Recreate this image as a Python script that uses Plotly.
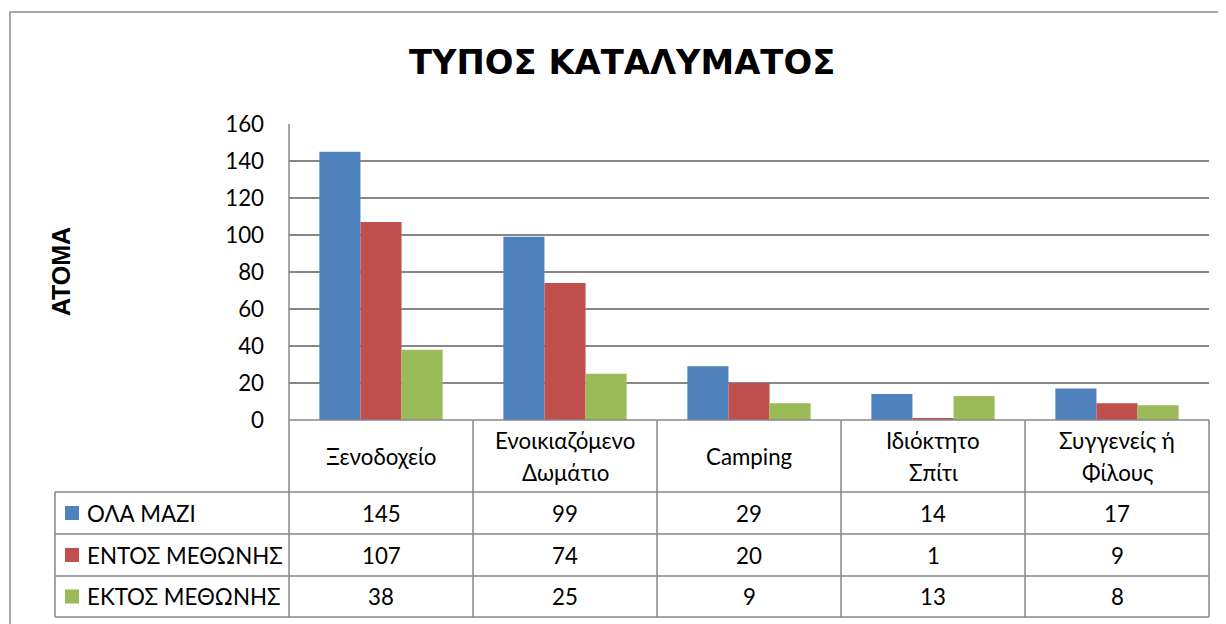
import plotly.graph_objects as go

# ---------------- data ----------------
categories = ["Ξενοδοχείο", "Ενοικιαζόμενο Δωμάτιο", "Camping", "Ιδιόκτητο Σπίτι", "Συγγενείς ή Φίλους"]
category_lines = [["Ξενοδοχείο"], ["Ενοικιαζόμενο", "Δωμάτιο"], ["Camping"], ["Ιδιόκτητο", "Σπίτι"], ["Συγγενείς ή", "Φίλους"]]
series_names = ["ΟΛΑ ΜΑΖΙ", "ΕΝΤΟΣ ΜΕΘΩΝΗΣ", "ΕΚΤΟΣ ΜΕΘΩΝΗΣ"]
ola_mazi = [145, 99, 29, 14, 17]
entos_methonis = [107, 74, 20, 1, 9]
ektos_methonis = [38, 25, 9, 13, 8]
series_values = [ola_mazi, entos_methonis, ektos_methonis]
series_colors = ["#4F81BD", "#C0504D", "#9BBB59"]
y_ticks = [0, 20, 40, 60, 80, 100, 120, 140, 160]
title_text = "ΤΥΠΟΣ ΚΑΤΑΛΥΜΑΤΟΣ"
y_title = "ΑΤΟΜΑ"

# ---------------- layout geometry (screen pixels, page body has 8px margin) ----------------
OFF = 8
W, H = 1226 - OFF, 624 - OFF
L, R, T, B = 289, 1209, 124, 420   # plot area in screen pixels
FONT = "Lato, 'Open Sans', sans-serif"
TFONT = "'DejaVu Sans', 'Liberation Sans', sans-serif"
YFONT = "'Liberation Sans', Arial, sans-serif"
GRID = "#878787"
TXT = 22.3
n = len(categories)

def px(x):
    return (x - L) / (R - L)

def py(y):
    return (B - y) / (B - T)

fig = go.Figure()
for name, vals, col in zip(series_names, series_values, series_colors):
    fig.add_trace(go.Bar(x=categories, y=vals, name=name, marker=dict(color=col, line=dict(width=0))))

shapes = []
ann = []

# outer chart border (top and left visible)
shapes.append(dict(type="rect", xref="paper", yref="paper", x0=px(10), x1=px(1260), y0=py(12), y1=py(660),
                   line=dict(color="#8c8c8c", width=1.5), layer="below"))

# table rows (screen pixel y)
hdr_top, hdr_bot = 420, 492
row_edges = [492, 534, 576, 617]
leg_left = 55

def hline(x0, x1, y):
    shapes.append(dict(type="line", xref="paper", yref="paper", x0=x0, x1=x1, y0=py(y), y1=py(y),
                       line=dict(color=GRID, width=1.5)))

def vline(x, y0, y1):
    shapes.append(dict(type="line", xref="paper", yref="paper", x0=x, x1=x, y0=py(y0), y1=py(y1),
                       line=dict(color=GRID, width=1.5)))

hline(0, 1, hdr_top)
for y in row_edges:
    hline(px(leg_left), 1, y)
vline(px(leg_left), row_edges[0], row_edges[-1])
vline(0, T, row_edges[-1])
for i in range(1, n + 1):
    vline(i / n, hdr_top, row_edges[-1])

# category header labels
for i, lines in enumerate(category_lines):
    xc = (i + 0.5) / n
    if len(lines) == 1:
        ys = [(hdr_top + hdr_bot) / 2]
    else:
        ys = [440, 473]
    for txt, yy in zip(lines, ys):
        ann.append(dict(text=txt, x=xc, y=py(yy), xref="paper", yref="paper", showarrow=False,
                        xanchor="center", yanchor="middle", font=dict(size=TXT, color="#000", family=FONT)))

# data rows
for r, (name, vals, col) in enumerate(zip(series_names, series_values, series_colors)):
    yc = (row_edges[r] + row_edges[r + 1]) / 2
    shapes.append(dict(type="rect", xref="paper", yref="paper", x0=px(65), x1=px(79), y0=py(yc - 7), y1=py(yc + 7),
                       fillcolor=col, line=dict(width=0)))
    ann.append(dict(text=name, x=px(85), y=py(yc), xref="paper", yref="paper", showarrow=False,
                    xanchor="left", yanchor="middle", font=dict(size=TXT, color="#000", family=FONT)))
    for i, v in enumerate(vals):
        ann.append(dict(text=str(v), x=(i + 0.5) / n, y=py(yc), xref="paper", yref="paper", showarrow=False,
                        xanchor="center", yanchor="middle", font=dict(size=TXT, color="#000", family=FONT)))

# title and y-axis title
ann.append(dict(text="<b>" + title_text + "</b>", x=px(622), y=py(62), xref="paper", yref="paper", showarrow=False,
                xanchor="center", yanchor="middle", font=dict(size=33.8, color="#000", family=TFONT)))
ann.append(dict(text="<b>" + y_title + "</b>", x=px(61), y=py(272), xref="paper", yref="paper", showarrow=False,
                xanchor="center", yanchor="middle", textangle=-90, font=dict(size=25, color="#000", family=YFONT)))

fig.update_layout(
    width=W, height=H,
    margin=dict(l=L - OFF, r=W - (R - OFF), t=T - OFF, b=H - (B - OFF), pad=0),
    paper_bgcolor="white", plot_bgcolor="white",
    barmode="group", bargap=0.33, bargroupgap=0,
    showlegend=False,
    shapes=shapes, annotations=ann,
    xaxis=dict(range=[-0.5, n - 0.5], showticklabels=False, showgrid=False, zeroline=False, showline=False, ticks=""),
    yaxis=dict(range=[0, 160], tickvals=y_ticks, showgrid=True, gridcolor=GRID, gridwidth=1.5,
               zeroline=False, showline=False, ticks="", ticklabelstandoff=24,
               tickfont=dict(size=TXT, color="#000", family=FONT)),
    font=dict(family=FONT),
)

fig.write_html("out.html")
